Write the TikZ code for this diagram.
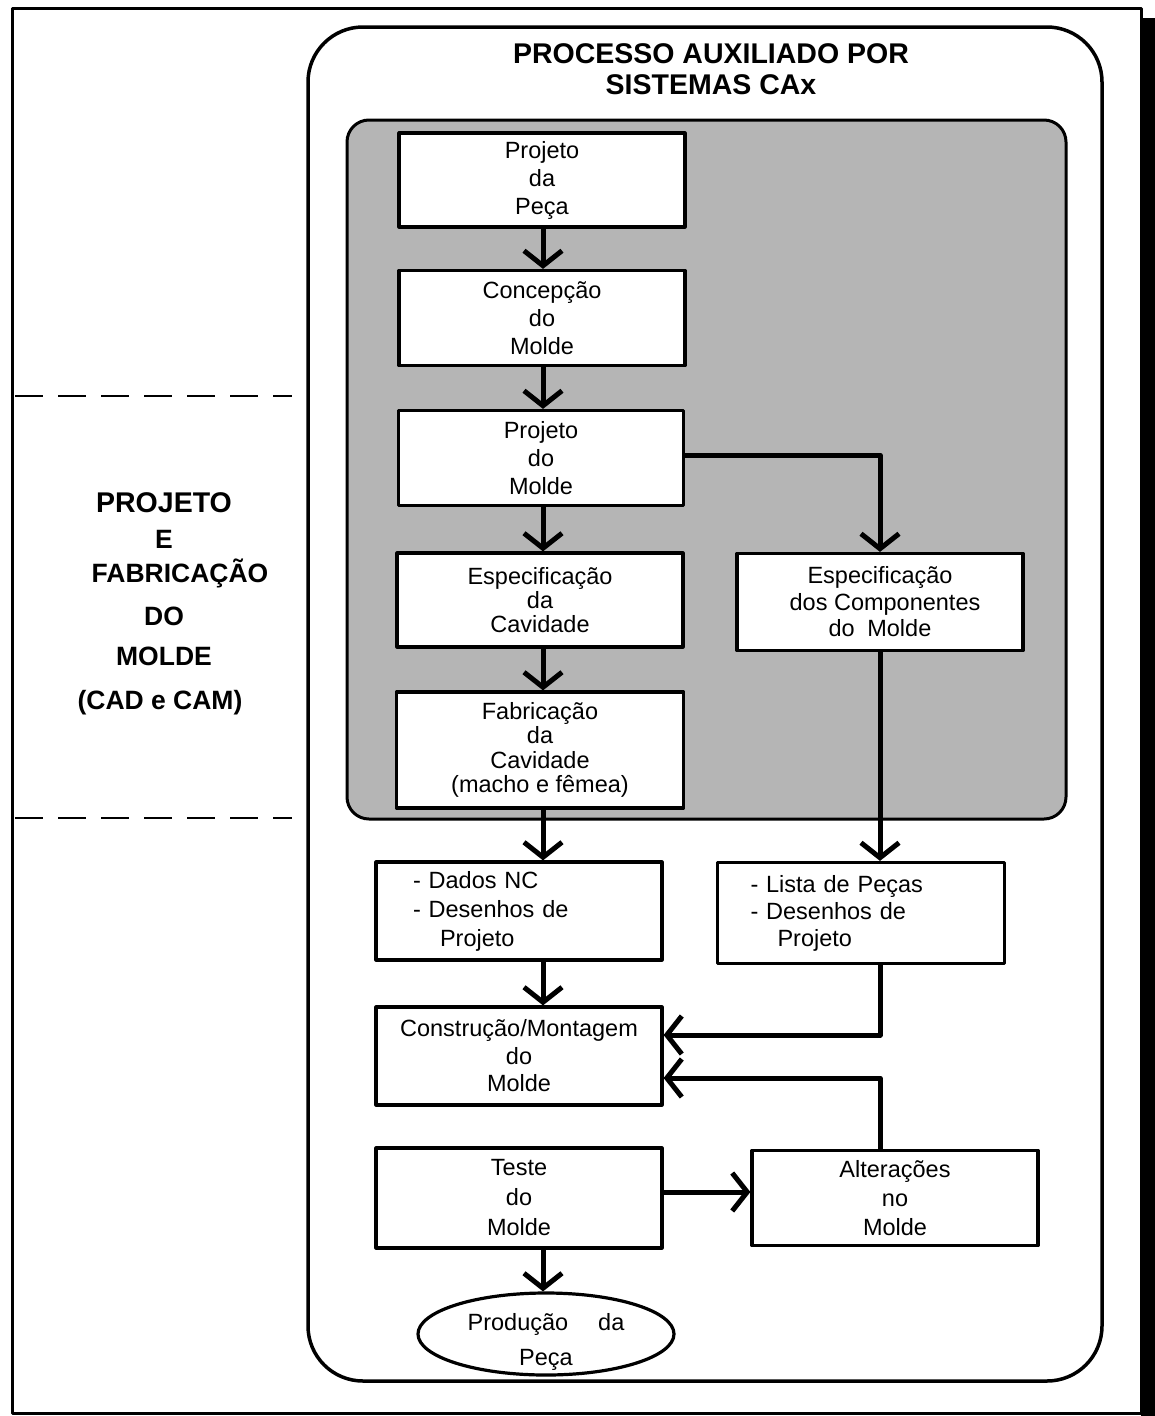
\documentclass[tikz,border=0pt]{standalone}
\usepackage{fontspec}
\setmainfont{Liberation Sans}
\usetikzlibrary{arrows.meta,shapes.geometric,calc}
\begin{document}
\begin{tikzpicture}[x=1pt,y=-1pt,line join=round,
  box/.style={draw,line width=3.2pt,fill=white,inner sep=0pt,align=center,
    font=\fontsize{23.5}{28}\selectfont},
  listbox/.style={box,align=left},
  arr/.style={line width=5pt,-{Straight Barb[length=15pt,width=38pt]}},
  heading/.style={font=\bfseries\fontsize{28.5}{31}\selectfont,align=center},
  divider/.style={line width=2pt,dash pattern=on 28pt off 15pt}]
\useasboundingbox (0,0) rectangle (1155,1416);

% page frame with its dark right edge
\draw[line width=3pt] (12,8) rectangle (1141,1413);
\fill (1141,18) rectangle (1155,1416);

% CAx process frame and the shaded CAD/CAM region
\draw[line width=3.5pt,rounded corners=55pt] (308,27) rectangle (1102,1381);
\draw[line width=3pt,fill=black!29,rounded corners=22pt] (347,120) rectangle (1066,819);

\node[heading] (title) at (711,69) {PROCESSO AUXILIADO POR\\SISTEMAS CAx};

% side label between the dashed dividers
\draw[divider] (15,396) -- (292,396);
\draw[divider] (15,818) -- (292,818);
\node[heading,font=\bfseries\fontsize{26.5}{34}\selectfont] (side) at (164,604)
  {{\fontsize{28.5}{34}\selectfont PROJETO}\\[2pt]E\\\hspace*{32pt}FABRICAÇÃO\\[9pt]DO\\[6pt]MOLDE\\[10pt]\hspace*{-8pt}(CAD e CAM)};

% process steps
\node[box,minimum width=286pt,minimum height=94pt] (p1) at (542,180) {Projeto\\da\\Peça};
\node[box,minimum width=286pt,minimum height=95pt] (p2) at (542,318) {Concepção\\do\\Molde};
\node[box,minimum width=285pt,minimum height=95pt] (p3) at (541,458) {Projeto\\do\\Molde};
\node[box,minimum width=286pt,minimum height=94pt,font=\fontsize{23.5}{24}\selectfont] (p4) at (540,600) {Especificação\\da\\Cavidade};
\node[box,minimum width=286pt,minimum height=97pt,font=\fontsize{23.5}{26.5}\selectfont] (p5) at (880,602) {Especificação\\\hspace*{10pt}dos Componentes\\do\hspace{6pt} Molde};
\node[box,minimum width=287pt,minimum height=116pt,font=\fontsize{23.5}{24.5}\selectfont] (p6) at (540,750) {Fabricação\\da\\Cavidade\\(macho e fêmea)};

\node[listbox,minimum height=98pt,text width=212pt,inner xsep=37pt,font=\fontsize{23.5}{29}\selectfont] (b7) at (519,911)
  {- Dados NC\\- Desenhos de\\\hspace*{27pt}Projeto};
\node[listbox,minimum height=101pt,text width=221pt,inner xsep=33pt,font=\fontsize{23.5}{27}\selectfont] (b8) at (861,913)
  {- Lista de Peças\\- Desenhos de\\\hspace*{27pt}Projeto};
\node[box,minimum width=286pt,minimum height=98pt,font=\fontsize{23.5}{27.5}\selectfont] (b9) at (519,1056) {Construção/Montagem\\do\\Molde};
\node[box,minimum width=286pt,minimum height=100pt,font=\fontsize{23.5}{30}\selectfont] (b10) at (519,1198) {Teste\\do\\Molde};
\node[box,minimum width=286pt,minimum height=95pt,font=\fontsize{23.5}{29}\selectfont] (b11) at (895,1198) {Alterações\\no\\Molde};
\node[box,ellipse,inner sep=0pt,minimum width=256pt,minimum height=82pt,font=\fontsize{23.5}{35}\selectfont] (prod) at (546,1334)
  {\raisebox{-13pt}[25pt][25pt]{\begin{tabular}{@{}c@{}}Produção\hspace{30pt}da\\Peça\end{tabular}}};

% connectors
\coordinate (ax) at (543,0);
\coordinate (cx) at (880,0);
\draw[arr] (p1.south -| ax) -- (p2.north -| ax);
\draw[arr] (p2.south -| ax) -- (p3.north -| ax);
\draw[arr] (p3.south -| ax) -- (p4.north -| ax);
\draw[arr] (p4.south -| ax) -- (p6.north -| ax);
\draw[arr] ([yshift=3pt]p3.east) -| (p5.north);
\draw[arr] (p6.south -| ax) -- (b7.north -| ax);
\draw[arr] (p5.south -| cx) -- (b8.north -| cx);
\draw[arr] (b7.south -| ax) -- (b9.north -| ax);
\draw[arr] (b8.south -| cx) |- ([yshift=21pt]b9.east);
\draw[arr] (b11.north -| cx) |- ([yshift=-22pt]b9.east);
\draw[arr] (b10.south -| ax) -- (prod.north -| ax);
\draw[arr] ([yshift=6pt]b10.east) -- ([yshift=6pt]b10.east -| b11.west);
\end{tikzpicture}
\end{document}
